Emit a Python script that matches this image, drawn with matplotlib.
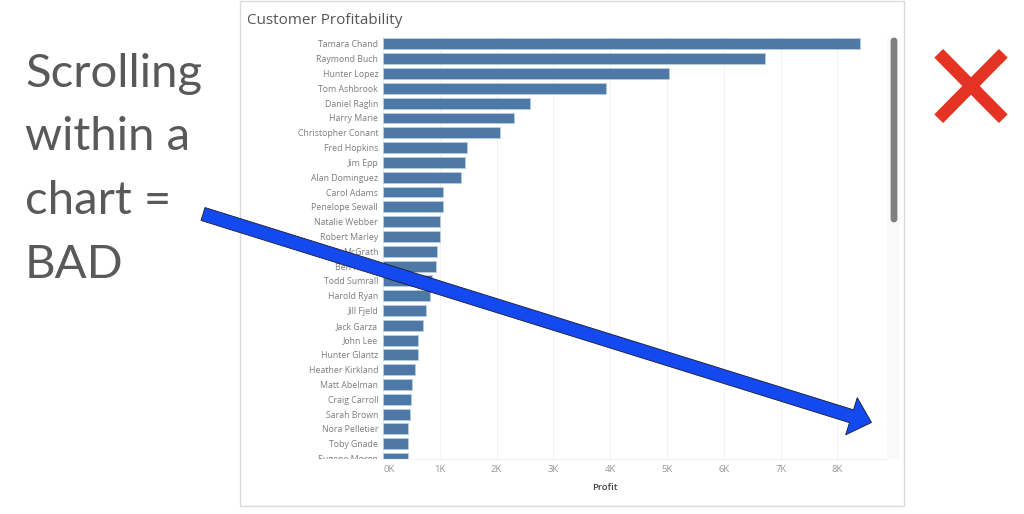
import matplotlib
matplotlib.use("Agg")
import matplotlib.pyplot as plt
from matplotlib.patches import Rectangle, FancyArrow, FancyBboxPatch
from matplotlib.transforms import Bbox

customers = ["Tamara Chand", "Raymond Buch", "Hunter Lopez", "Tom Ashbrook", "Daniel Raglin",
             "Harry Marie", "Christopher Conant", "Fred Hopkins", "Jim Epp", "Alan Dominguez",
             "Carol Adams", "Penelope Sewall", "Natalie Webber", "Robert Marley", "McGrath",
             "Ben Ferrer", "Todd Sumrall", "Harold Ryan", "Jill Fjeld", "Jack Garza",
             "John Lee", "Hunter Glantz", "Heather Kirkland", "Matt Abelman", "Craig Carroll",
             "Sarah Brown", "Nora Pelletier", "Toby Gnade", "Eugene Moren"]
profit = [8.40, 6.73, 5.04, 3.93, 2.59, 2.30, 2.065, 1.48, 1.44, 1.37,
          1.06, 1.05, 1.01, 1.00, 0.945, 0.93, 0.87, 0.83, 0.75, 0.70,
          0.62, 0.62, 0.565, 0.515, 0.49, 0.475, 0.445, 0.445, 0.445]
xticks = [0, 1, 2, 3, 4, 5, 6, 7, 8]
xticklabels = ["0K", "1K", "2K", "3K", "4K", "5K", "6K", "7K", "8K"]
slide_lines = ["Scrolling", "within a", "chart =", "BAD"]

W, H = 1024, 514
TAB_FONT = ["Open Sans", "DejaVu Sans"]

fig = plt.figure(figsize=(W / 100, H / 100), dpi=100, facecolor="white")

# overlay in pixel coords, for the slide furniture behind the chart
bg = fig.add_axes([0, 0, 1, 1], zorder=0)
bg.set_xlim(0, W)
bg.set_ylim(H, 0)
bg.axis("off")
bg.add_patch(Rectangle((239.5, 1), 664, 505, facecolor="white", edgecolor="#dadada", lw=1))
bg.add_patch(Rectangle((887, 37), 13, 421.5, facecolor="#fafafa", edgecolor="none"))
bg.add_patch(FancyBboxPatch((892, 39), 4, 182, boxstyle="round,pad=0,rounding_size=2",
                            facecolor="#7f7f7f", edgecolor="#7f7f7f", lw=2))
bg.text(247, 20, "Customer Profitability", family=TAB_FONT, fontsize=11, color="#555555",
        ha="left", va="center")

# bar chart
ax = fig.add_axes([383 / W, 1 - 458.5 / H, 504 / W, 421.5 / H], zorder=1)
ax.patch.set_alpha(0)
pos = list(range(len(customers)))
ax.barh(pos, profit, height=0.74, color="#4e79a7", edgecolor="#b9cde2", linewidth=0.6, zorder=2)
ax.set_xlim(0, 504 / 56.8)
ax.set_ylim(27.95, -0.47)
ax.set_yticks(pos)
ax.set_yticklabels(customers, family=TAB_FONT, fontsize=6.3, color="#7c7c7c")
ax.set_xticks(xticks)
ax.set_xticklabels(xticklabels, family=TAB_FONT, fontsize=6.8, color="#969696")
ax.xaxis.get_ticklabels()[0].set_ha("left")
ax.tick_params(axis="both", length=0)
ax.tick_params(axis="y", pad=3.5)
ax.tick_params(axis="x", pad=5)
ax.grid(axis="x", color="#f3f3f3", lw=0.8, zorder=0)
ax.set_axisbelow(True)
for side in ["top", "right", "left"]:
    ax.spines[side].set_visible(False)
ax.spines["bottom"].set_color("#f3f3f3")
ax.set_xlabel("Profit", family=TAB_FONT, fontsize=6.8, fontweight="semibold", color="#444444")
ax.xaxis.set_label_coords((605 - 383) / 504, -(487 - 458.5) / 421.5, transform=ax.transAxes)
ax.xaxis.label.set_va("center")

# last name gets cut off at the bottom of the scroll area
clip = Bbox([[240, H - 458.5], [383, H - 37]])
for lab in ax.yaxis.get_ticklabels():
    lab.set_clip_box(clip)
    lab.set_clip_on(True)

# overlay on top: slide text, arrow, red cross
fg = fig.add_axes([0, 0, 1, 1], zorder=2)
fg.set_xlim(0, W)
fg.set_ylim(H, 0)
fg.axis("off")
for i, line in enumerate(slide_lines):
    fg.text(25, 74 + i * 63.5, line, family=["Lato", "DejaVu Sans"], fontsize=34, color="#595959",
            ha="left", va="center")
fg.add_patch(FancyArrow(203, 214, 668.5, 208.5, width=13.5, head_width=39, head_length=21,
                        length_includes_head=True, facecolor="#1449f0", edgecolor="#1a1a2e", lw=0.6))
fg.plot([938.7, 1003.3], [53.3, 118.7], color="#e53323", lw=8.9, solid_capstyle="butt")
fg.plot([1003.3, 938.7], [53.3, 118.7], color="#e53323", lw=8.9, solid_capstyle="butt")

fig.savefig("out.png", dpi=100)
